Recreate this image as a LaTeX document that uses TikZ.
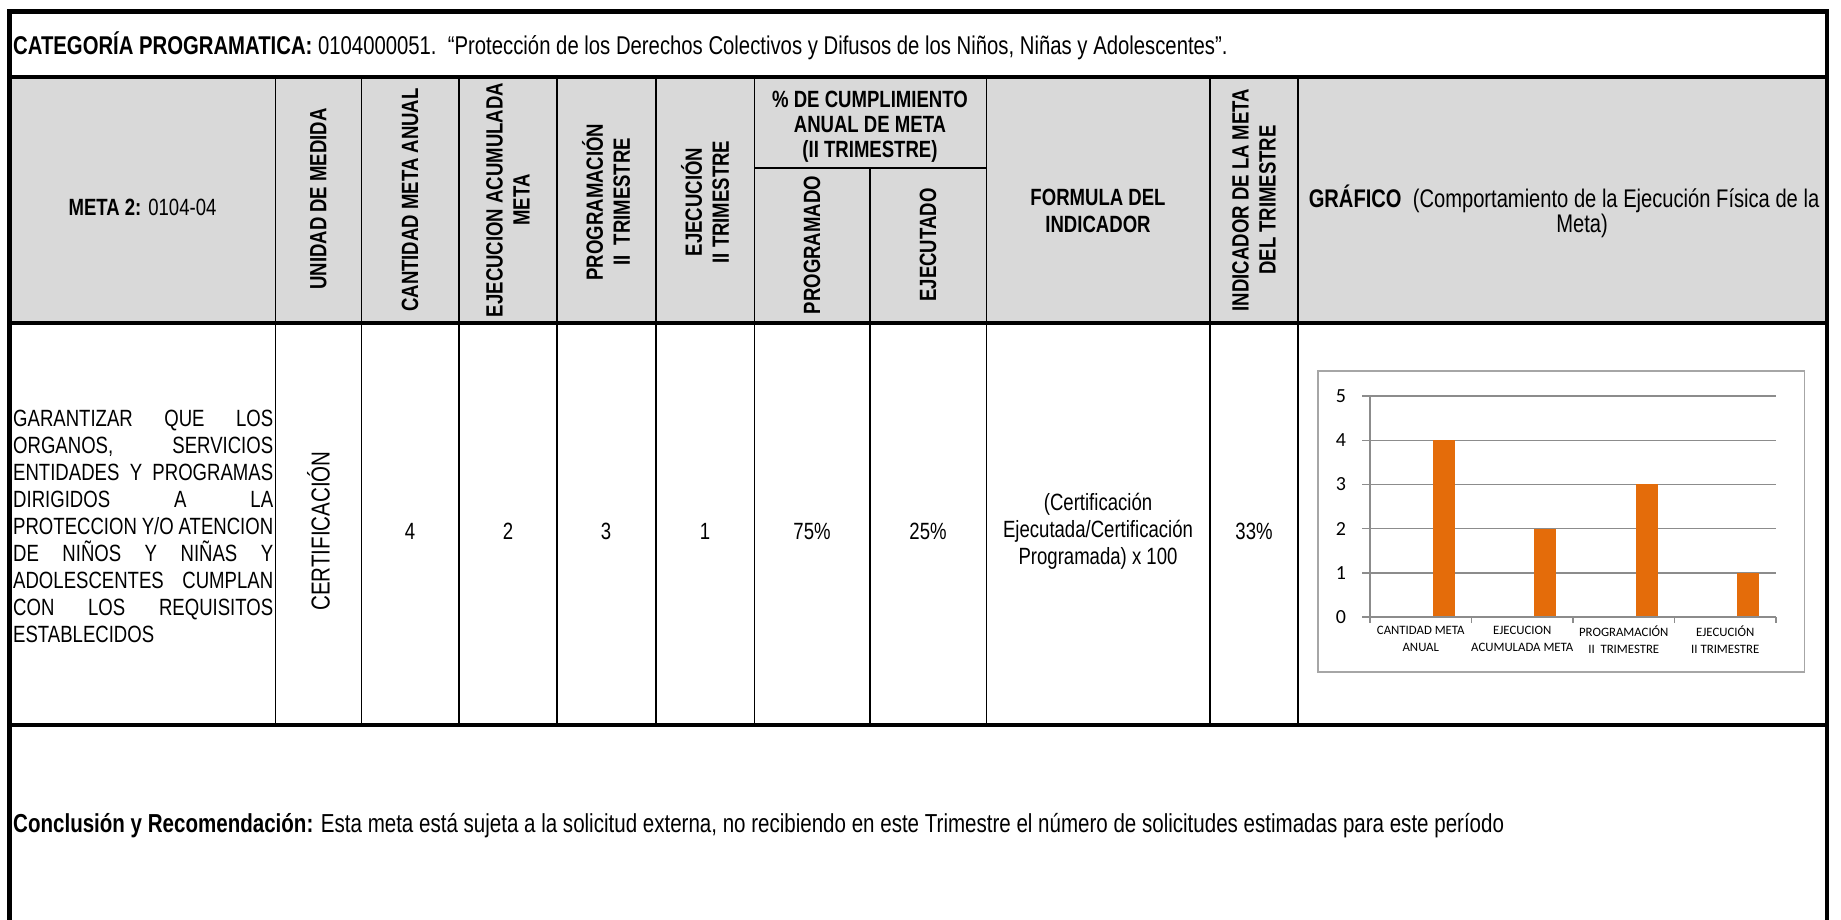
\documentclass[tikz,border=0pt]{standalone}
\usepackage{fontspec}
\setmainfont{Liberation Sans}
\newfontfamily\tabfont[FakeStretch=0.79]{Liberation Sans}
\newfontfamily\chartfont{Carlito}
\usepackage[HTML]{xcolor}
\usepackage{tikz}
\definecolor{hdrgray}{HTML}{D9D9D9}
\definecolor{barorange}{HTML}{E46C0A}
\definecolor{gridgray}{HTML}{8C8C8C}
\definecolor{boxgray}{HTML}{A6A6A6}
\newcommand{\tabsize}{\fontsize{23.5}{27}\selectfont}
\newcommand{\bigsize}{\fontsize{26}{27}\selectfont}
\newcommand{\fullline}[1]{\makebox[260pt][s]{#1}}

\tikzset{
  hdr/.style={font=\tabfont\tabsize\bfseries, align=center, inner sep=0pt},
  hdrup/.style={hdr, rotate=90},
  val/.style={font=\tabfont\tabsize, align=center, inner sep=0pt},
  bigval/.style={font=\tabfont\bigsize, align=center, inner sep=0pt},
  thickrule/.style={line width=4.5pt},
  thinrule/.style={line width=1.6pt},
  gridrule/.style={draw=gridgray, line width=1.4pt},
  ticklbl/.style={font=\chartfont\fontsize{20}{20}\selectfont, inner sep=0pt},
  catlbl/.style={font=\chartfont\fontsize{12.8}{16.5}\selectfont, align=center, inner sep=0pt, anchor=north},
}

\begin{document}
\begin{tikzpicture}[x=1pt,y=-1pt]
\useasboundingbox (0,0) rectangle (1841,919);

% header band
\fill[hdrgray] (9.5,77) rectangle (1827,323);

% frame and row rules
\draw[thickrule] (9.5,930) -- (9.5,11.5) -- (1827,11.5) -- (1827,930);
\draw[thickrule] (9.5,77) -- (1827,77);
\draw[thickrule] (9.5,323) -- (1827,323);
\draw[thickrule] (9.5,725) -- (1827,725);

% column rules
\draw[thinrule] (275.5,77) -- (275.5,725);
\draw[thinrule] (361.6,77) -- (361.6,725);
\draw[thinrule] (459,77) -- (459,725);
\draw[thinrule] (557,77) -- (557,725);
\draw[thinrule] (656,77) -- (656,725);
\draw[thinrule] (754.5,77) -- (754.5,725);
\draw[thinrule] (754.5,168) -- (986.5,168);
\draw[thinrule] (870,168) -- (870,725);
\draw[thinrule] (986.5,77) -- (986.5,725);
\draw[thinrule] (1210,77) -- (1210,725);
\draw[thinrule] (1298,77) -- (1298,725);

% title row
\node (cat) [val, font=\tabfont\fontsize{25.7}{27}\selectfont, anchor=west] at (13,46) {\textbf{CATEGORÍA PROGRAMATICA:} 0104000051.\ \ “Protección de los Derechos Colectivos y Difusos de los Niños, Niñas y Adolescentes”.};

% header row
\node (meta) [val] at (142.5,207) {\textbf{META 2:} 0104-04};
\node (unidad) [hdrup] at (318.5,199) {UNIDAD DE MEDIDA};
\node (cantidad) [hdrup] at (410,200) {CANTIDAD META ANUAL};
\node (acum) [hdrup] at (508,200) {EJECUCION ACUMULADA\\META};
\node (prog) [hdrup] at (606,202) {PROGRAMACIÓN\\II\ \ TRIMESTRE};
\node (ejec) [hdrup] at (705,202) {EJECUCIÓN\\II TRIMESTRE};
\node (cumpl) [hdr, font=\tabfont\fontsize{23.5}{25}\selectfont\bfseries] at (870,127) {\% DE CUMPLIMIENTO\\ANUAL DE META\\(II TRIMESTRE)};
\node (programado) [hdrup] at (812,245) {PROGRAMADO};
\node (ejecutado) [hdrup] at (928,245) {EJECUTADO};
\node (formula) [hdr] at (1098,211) {FORMULA DEL\\INDICADOR};
\node (indic) [hdrup] at (1254,200) {INDICADOR DE LA META\\DEL TRIMESTRE};
\node (graf) [bigval, font=\tabfont\fontsize{25.5}{27}\selectfont] at (1564,199) {\textbf{GRÁFICO}\ \ (Comportamiento de la Ejecución Física de la};
\node (grafb) [bigval, font=\tabfont\fontsize{25.5}{27}\selectfont] at (1582,226) {Meta)};

% data row
\node (metatext) [val, align=left, anchor=west] at (13,526) {\fullline{GARANTIZAR QUE LOS}\\
  \fullline{ORGANOS, SERVICIOS}\\
  \fullline{ENTIDADES Y PROGRAMAS}\\
  \fullline{DIRIGIDOS A LA}\\
  \fullline{PROTECCION Y/O ATENCION}\\
  \fullline{DE NIÑOS Y NIÑAS Y}\\
  \fullline{ADOLESCENTES CUMPLAN}\\
  \fullline{CON LOS REQUISITOS}\\
  ESTABLECIDOS};
\node (cert) [bigval, rotate=90] at (318.5,531) {CERTIFICACIÓN};
\node (v1) [val] at (410,531) {4};
\node (v2) [val] at (508,531) {2};
\node (v3) [val] at (606,531) {3};
\node (v4) [val] at (705,531) {1};
\node (v5) [val] at (812,531) {75\%};
\node (v6) [val] at (928,531) {25\%};
\node (v7) [val] at (1098,531) {(Certificación\\Ejecutada/Certificación\\Programada) x 100};
\node (v8) [val] at (1254,531) {33\%};

% chart
\draw[draw=boxgray, line width=1.3pt, fill=white] (1318,371) rectangle (1804.5,672);
\draw[gridrule] (1362,396) -- (1776,396);
\draw[gridrule] (1362,440.2) -- (1776,440.2);
\draw[gridrule] (1362,484.4) -- (1776,484.4);
\draw[gridrule] (1362,528.6) -- (1776,528.6);
\draw[gridrule] (1362,572.8) -- (1776,572.8);
\fill[barorange] (1432.5,617) rectangle (1454.5,440.2);
\fill[barorange] (1534,617) rectangle (1556,528.6);
\fill[barorange] (1635.5,617) rectangle (1657.5,484.4);
\fill[barorange] (1737,617) rectangle (1759,572.8);
\draw[gridrule] (1370,396) -- (1370,623);
\draw[gridrule] (1362,617) -- (1776,617);
\draw[gridrule] (1471.5,617) -- (1471.5,623);
\draw[gridrule] (1573,617) -- (1573,623);
\draw[gridrule] (1674.5,617) -- (1674.5,623);
\draw[gridrule] (1776,617) -- (1776,623);
\node (t0) [ticklbl] at (1341,617) {0};
\node (t1) [ticklbl] at (1341,572.8) {1};
\node (t2) [ticklbl] at (1341,528.6) {2};
\node (t3) [ticklbl] at (1341,484.4) {3};
\node (t4) [ticklbl] at (1341,440.2) {4};
\node (t5) [ticklbl] at (1341,396) {5};
\node (c1) [catlbl] at (1420.75,626) {CANTIDAD META\\ANUAL};
\node (c2) [catlbl] at (1522.25,626) {EJECUCION\\ACUMULADA META};
\node (c3) [catlbl] at (1623.75,626) {PROGRAMACIÓN\\II\ \ TRIMESTRE};
\node (c4) [catlbl] at (1725.25,626) {EJECUCIÓN\\II TRIMESTRE};

% conclusion row
\node (concl) [bigval, anchor=west] at (13,826) {\textbf{Conclusión y Recomendación:} Esta meta está sujeta a la solicitud externa, no recibiendo en este Trimestre el número de solicitudes estimadas para este período};
\end{tikzpicture}
\end{document}
